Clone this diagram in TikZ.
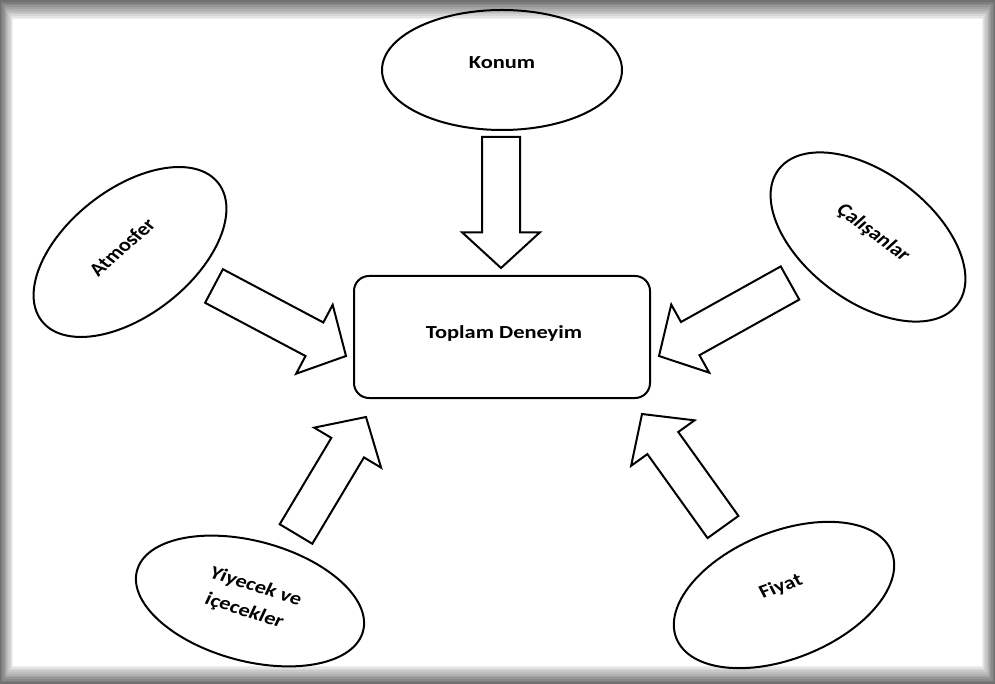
\documentclass[tikz,border=0pt]{standalone}
\usepackage{fontspec}
\setmainfont{Carlito}
\usetikzlibrary{shapes.geometric,shapes.arrows,calc}

% hollow block arrow from a tail coordinate to a tip coordinate
\newcommand\blkarrow[3]{%
  \path let \p1=($(#3)-(#2)$), \n1={atan2(\y1,\x1)}, \n2={veclen(\x1,\y1)} in
    node (#1) [blockarrow, minimum height=\n2, rotate=\n1] at (#2) {};}

\begin{document}
\begin{tikzpicture}[
        x=1pt, y=-1pt,
        bubble/.style={
            ellipse,
            draw=black,
            line width=2pt,
            inner sep=0pt
        },
        hub/.style={
            rectangle,
            draw=black,
            line width=2pt,
            rounded corners=15pt,
            minimum width=296pt,
            minimum height=122pt
        },
        lbl/.style={
            inner sep=0pt,
            align=center,
            transform shape,
            xscale=1.22,
            font=\fontsize{18.4}{26}\selectfont\bfseries
        },
        blockarrow/.style={
            single arrow,
            draw=black,
            fill=white,
            line width=2pt,
            anchor=tail,
            inner xsep=0pt,
            inner ysep=18pt,
            outer sep=0pt,
            single arrow head extend=20pt,
            single arrow tip angle=95
        }
    ]
        \useasboundingbox (0,0) rectangle (995,684);

        % shaded frame
        \foreach \i [evaluate=\i as \c using int(56-5*\i)] in {0,...,10}
            \fill[black!\c] ({1.2*\i},{1.8*\i}) rectangle ({995-1.2*\i},{684-1.7*\i});
        \fill[white] (13,19) rectangle (982,666);

        % centre
        \node[hub] (toplam) at (502,337) {};
        \node[lbl] (toplam-txt) at (504,333) {Toplam Deneyim};

        % factors
        \node[bubble, minimum width=240pt, minimum height=120pt] (konum) at (502,70) {};
        \node[lbl] (konum-txt) at (502,63) {Konum};

        \node[bubble, minimum width=224pt, minimum height=126pt, rotate=38] (atmosfer) at (130,252) {};
        \node[lbl, rotate=47] (atmosfer-txt) at (122,247) {Atmosfer};

        \node[bubble, minimum width=224pt, minimum height=128pt, rotate=-37] (calisan) at (868,237) {};
        \node[lbl, rotate=-42] (calisan-txt) at (873,233) {Çalışanlar};

        \node[bubble, minimum width=234pt, minimum height=120pt, rotate=-15] (yiyecek) at (250,601) {};
        \node[lbl, rotate=-21] (yiyecek-txt) at (250,599) {Yiyecek ve\\içecekler};

        \node[bubble, minimum width=232pt, minimum height=127pt, rotate=22] (fiyat) at (784,595) {};
        \node[lbl, rotate=23] (fiyat-txt) at (781,587) {Fiyat};

        % arrow ends
        \coordinate (konum-t) at (501,137);
        \coordinate (konum-h) at (501,268);
        \coordinate (atmosfer-t) at (214,286);
        \coordinate (atmosfer-h) at (346,356);
        \coordinate (calisan-t) at (790,283);
        \coordinate (calisan-h) at (659,356);
        \coordinate (yiyecek-t) at (296,534);
        \coordinate (yiyecek-h) at (366,417);
        \coordinate (fiyat-t) at (723,527);
        \coordinate (fiyat-h) at (642,414);

        % arrows
        \blkarrow{konum-arr}{konum-t}{konum-h}
        \blkarrow{atmosfer-arr}{atmosfer-t}{atmosfer-h}
        \blkarrow{calisan-arr}{calisan-t}{calisan-h}
        \blkarrow{yiyecek-arr}{yiyecek-t}{yiyecek-h}
        \blkarrow{fiyat-arr}{fiyat-t}{fiyat-h}
    \end{tikzpicture}
\end{document}
